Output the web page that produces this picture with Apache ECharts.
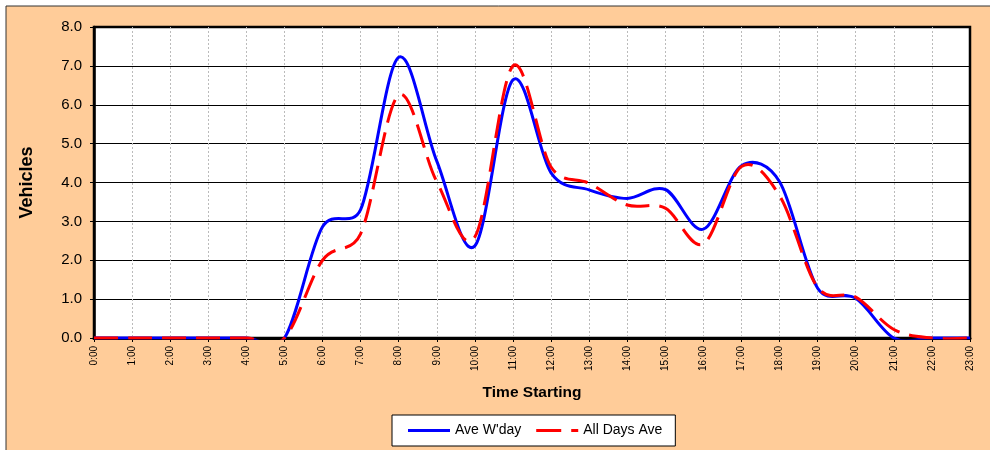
<!DOCTYPE html>
<html>
<head>
<meta charset="utf-8">
<script src="https://cdn.jsdelivr.net/npm/echarts@6/dist/echarts.min.js"></script>
<style>
html,body{margin:0;padding:0;background:#ffffff;}
#chart{width:990px;height:450px;}
</style>
</head>
<body>
<div id="chart"></div>
<script>
var hours = ['0:00','1:00','2:00','3:00','4:00','5:00','6:00','7:00','8:00','9:00','10:00','11:00','12:00','13:00','14:00','15:00','16:00','17:00','18:00','19:00','20:00','21:00','22:00','23:00'];
var aveWeekday = [0,0,0,0,0,0,2.86,3.3,7.22,4.55,2.37,6.64,4.25,3.81,3.59,3.82,2.8,4.43,4.02,1.28,1.02,0,0,0];
var allDaysAve = [0,0,0,0,0,0,2.0,2.68,6.25,4.02,2.6,7.0,4.4,3.98,3.42,3.34,2.42,4.41,3.66,1.3,1.05,0.22,0,0];
var seriesNames = ["Ave W'day", 'All Days Ave'];
var seriesColors = ['#0000FF', '#FF0000'];

var font = 'Arial, "Liberation Sans", sans-serif';

// Excel-style smoothed line (Catmull-Rom Bezier) built from points projected by the axes.
function arm(pa, pb, pc, segLen) {
  var tx = (pc[0] - pa[0]) / 6, ty = (pc[1] - pa[1]) / 6;
  var len = Math.sqrt(tx * tx + ty * ty);
  var lim = segLen / 2;
  if (len > lim && len > 0) { tx *= lim / len; ty *= lim / len; }
  return [tx, ty];
}
function makeRender(values, color, dash) {
  return function (params, api) {
    if (params.dataIndex !== 0) return null;
    var n = values.length;
    var pts = values.map(function (v, i) { return api.coord([i, v]); });
    var d = 'M' + pts[0][0] + ' ' + pts[0][1];
    for (var i = 0; i < n - 1; i++) {
      var p0 = pts[Math.max(i - 1, 0)], p1 = pts[i], p2 = pts[i + 1], p3 = pts[Math.min(i + 2, n - 1)];
      var seg = Math.sqrt(Math.pow(p2[0] - p1[0], 2) + Math.pow(p2[1] - p1[1], 2));
      var a1 = arm(p0, p1, p2, seg);
      var a2 = arm(p1, p2, p3, seg);
      d += ' C' + (p1[0] + a1[0]) + ' ' + (p1[1] + a1[1]) + ' ' +
           (p2[0] - a2[0]) + ' ' + (p2[1] - a2[1]) + ' ' + p2[0] + ' ' + p2[1];
    }
    var cs = params.coordSys;
    return {
      type: 'path',
      shape: {pathData: d},
      style: {fill: 'none', stroke: color, lineWidth: 3, lineDash: dash, lineCap: 'butt', lineJoin: 'round'},
      clipPath: {type: 'rect', shape: {x: cs.x, y: cs.y - 2, width: cs.width + 1, height: cs.height + 3.5}}
    };
  };
}
function toData(values) { return values.map(function (v, i) { return [i, v]; }); }

var chart = echarts.init(document.getElementById('chart'), null, {renderer:'canvas'});
chart.setOption({
  animation: false,
  backgroundColor: '#ffffff',
  graphic: [{
    type: 'rect', z: -10, silent: true,
    shape: {x: 6, y: 6, width: 1000, height: 460},
    style: {fill: '#FFCC99', stroke: '#333333', lineWidth: 1}
  }],
  grid: {
    left: 94, right: 20, top: 27, bottom: 112,
    show: true, backgroundColor: '#ffffff', borderColor: '#000000', borderWidth: 2.5
  },
  legend: {
    left: 392, top: 415,
    padding: [8, 13, 8, 16],
    itemGap: 15,
    itemWidth: 42, itemHeight: 3,
    backgroundColor: '#ffffff', borderColor: '#000000', borderWidth: 1,
    textStyle: {fontFamily: font, fontSize: 14, color: '#000000', lineHeight: 15},
    data: [
      {name: seriesNames[0], icon: 'path://M0,0H42V3H0Z'},
      {name: seriesNames[1], icon: 'path://M0,0H25V3H0Z M35,0H42V3H35Z'}
    ]
  },
  xAxis: {
    type: 'category', data: hours, boundaryGap: false,
    name: 'Time Starting', nameLocation: 'middle', nameGap: 47,
    nameTextStyle: {fontFamily: font, fontSize: 15.5, fontWeight: 'bold', color: '#000000'},
    axisLine: {lineStyle: {color: '#000000', width: 3}},
    axisTick: {show: true, length: 4, lineStyle: {color: '#000000'}},
    axisLabel: {rotate: 90, fontFamily: font, fontSize: 10, color: '#000000', margin: 8, interval: 0},
    splitLine: {show: true, interval: function (i) { return i !== 0 && i !== hours.length - 1; },
      lineStyle: {color: '#bbbbbb', type: [2, 2], width: 1}}
  },
  yAxis: {
    type: 'value', min: 0, max: 8, interval: 1,
    name: 'Vehicles', nameLocation: 'middle', nameGap: 58,
    nameTextStyle: {fontFamily: font, fontSize: 18, fontWeight: 'bold', color: '#000000'},
    axisLine: {show: true, lineStyle: {color: '#000000', width: 2.5}},
    axisTick: {show: true, length: 4, lineStyle: {color: '#000000'}},
    axisLabel: {fontFamily: font, fontSize: 15, color: '#000000', margin: 12,
      formatter: function (v) { return v.toFixed(1); }},
    splitLine: {show: true, lineStyle: {color: '#000000', width: 1}}
  },
  series: [
    {
      name: seriesNames[0], type: 'custom', data: toData(aveWeekday),
      encode: {x: 0, y: 1}, itemStyle: {color: seriesColors[0]},
      renderItem: makeRender(aveWeekday, seriesColors[0], null), z: 3
    },
    {
      name: seriesNames[1], type: 'custom', data: toData(allDaysAve),
      encode: {x: 0, y: 1}, itemStyle: {color: seriesColors[1]},
      renderItem: makeRender(allDaysAve, seriesColors[1], [24, 10]), z: 4
    }
  ]
});
</script>
</body>
</html>
